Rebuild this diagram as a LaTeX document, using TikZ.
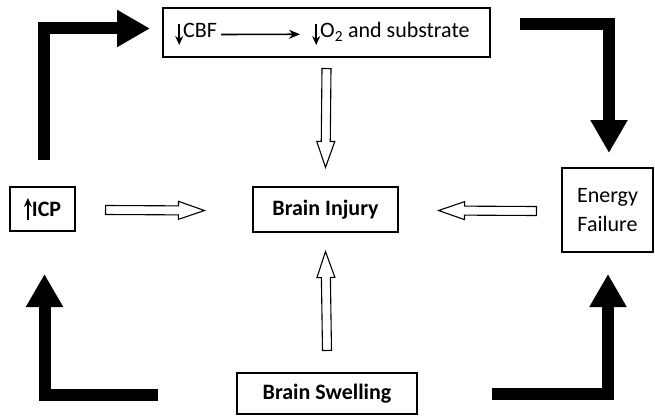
\documentclass[tikz,border=0pt]{standalone}
\usepackage{fontspec}
\setmainfont{Carlito}
\usetikzlibrary{arrows.meta,calc}
\newcommand\DnArrow{\tikz[baseline=0pt]\draw[line width=1.6pt,-{Stealth[length=9pt,width=8pt]}] (0pt,14pt)--(0pt,-7pt);}
\newcommand\UpArrow{\tikz[baseline=0pt]\draw[line width=1.6pt,-{Stealth[length=9pt,width=8pt]}] (0pt,-4pt)--(0pt,18pt);}
\newcommand\blockarr[2]{%
  \draw[hollowarr] let \p1=(#1), \p2=(#2), \n1={atan2(\y2-\y1,\x2-\x1)}, \n2={veclen(\x2-\x1,\y2-\y1)} in
  [shift={(\p1)}, rotate=\n1] (0,-4.5) -- (\n2-26,-4.5) -- (\n2-26,-9) -- (\n2,0) -- (\n2-26,9) -- (\n2-26,4.5) -- (0,4.5) -- cycle;}
\begin{document}
\begin{tikzpicture}[x=1pt,y=1pt,
  box/.style={draw, line width=1.1pt, inner sep=0pt, font=\fontsize{22}{29}\selectfont},
  txt/.style={inner sep=0pt, font=\fontsize{22}{29}\selectfont},
  hollowarr/.style={draw, line width=1.1pt, fill=white, line join=miter},
  bigarr/.style={line width=12pt, line join=miter, -{Triangle[length=33pt,width=35pt]}},
  thinarr/.style={line width=1.6pt, -{Stealth[length=11pt,width=9pt]}}]
\fill[white] (0,0) rectangle (655,416);
\useasboundingbox (0,0) rectangle (655,416);
% boxes
\node[box, minimum width=327pt, minimum height=49pt] (top) at (326.5,383.5) {};
\node[txt, anchor=base west] (cbf) at (175,378) {\DnArrow CBF};
\node[txt, anchor=base west] (o2) at (312,378) {\DnArrow O\textsubscript{2} and substrate};
\draw[thinarr] ($(cbf.east)+(4,0)$) -- ($(o2.west)+(-12,0)$);
\node[box, minimum width=145pt, minimum height=45pt, font=\fontsize{22}{29}\selectfont\bfseries] (bi) at (325.5,206.5) {Brain Injury};
\node[box, minimum width=65pt, minimum height=44pt, font=\fontsize{22}{29}\selectfont\bfseries] (icp) at (42.5,207) {\UpArrow ICP};
\node[box, minimum width=91pt, minimum height=84pt, align=center] (ef) at (607.5,206) {Energy\\Failure};
\node[box, minimum width=180pt, minimum height=41pt, font=\fontsize{22}{29}\selectfont\bfseries] (bs) at (327,22.5) {Brain Swelling};
% hollow arrows
\coordinate (h1s) at ($(icp.east)+(30,-1)$);
\coordinate (h1e) at ($(bi.west)+(-48,-1)$);
\coordinate (h2s) at ($(ef.west)+(-25,-1)$);
\coordinate (h2e) at ($(bi.east)+(40,-1)$);
\coordinate (h3s) at ($(top.south)+(0,-11)$);
\coordinate (h3e) at ($(bi.north)+(0,19)$);
\coordinate (h4s) at ($(bs.north)+(0,22)$);
\coordinate (h4e) at ($(bi.south)+(0,-19)$);
\blockarr{h1s}{h1e}
\blockarr{h2s}{h2e}
\blockarr{h3s}{h3e}
\blockarr{h4s}{h4e}
% black L arrows
\coordinate (l1s) at (43.5,256);
\coordinate (l1e) at (150,387.5);
\draw[bigarr] (l1s) |- (l1e);
\coordinate (l2s) at (520,392);
\coordinate (l2e) at (609,263);
\draw[bigarr] (l2s) -| (l2e);
\coordinate (l3s) at (158,21);
\coordinate (l3e) at (44.5,142);
\draw[bigarr] (l3s) -| (l3e);
\coordinate (l4s) at (492,22);
\coordinate (l4e) at (608,142);
\draw[bigarr] (l4s) -| (l4e);
\end{tikzpicture}
\end{document}
